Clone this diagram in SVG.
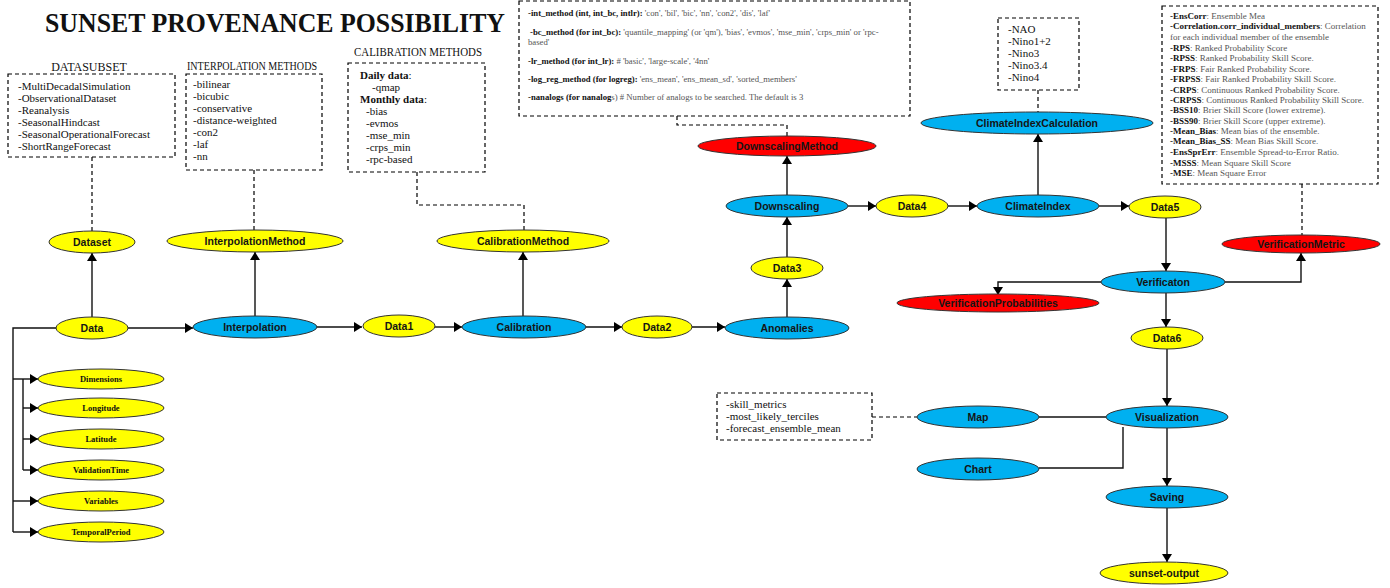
<svg xmlns="http://www.w3.org/2000/svg" width="1390" height="588" viewBox="0 0 1390 588">
<defs>
<marker id="arr" markerUnits="userSpaceOnUse" markerWidth="9" markerHeight="10" refX="8" refY="5" orient="auto"><path d="M0,0 L8,5 L0,10 z" fill="#000"/></marker>
<style>
.y{fill:#FFFF00;stroke:#333;stroke-width:1}
.b{fill:#00B0F0;stroke:#333;stroke-width:1}
.r{fill:#FF0000;stroke:#333;stroke-width:1}
.nt{font-family:"Liberation Sans",Arial,sans-serif;font-size:10.5px;font-weight:bold;fill:#151515;text-anchor:middle;dominant-baseline:central}
.st{font-family:"Liberation Serif","Times New Roman",serif;font-size:8.5px;font-weight:bold;fill:#111;text-anchor:middle;dominant-baseline:central}
.box{fill:#fff;stroke:#000;stroke-width:1.2;stroke-dasharray:4 3}
.dash{fill:none;stroke:#000;stroke-width:1.2;stroke-dasharray:4 3}
.ln{fill:none;stroke:#111;stroke-width:1.4}
.la{fill:none;stroke:#111;stroke-width:1.4;marker-end:url(#arr)}
.tx{font-family:"Liberation Serif","Times New Roman",serif;font-size:11px;fill:#111}
.hd{font-family:"Liberation Serif","Times New Roman",serif;font-size:12px;fill:#111;text-anchor:middle}
.sm{font-family:"Liberation Serif","Times New Roman",serif;font-size:8.7px;fill:#555}
.vm{font-family:"Liberation Serif","Times New Roman",serif;font-size:9px;fill:#555}
.k{font-weight:bold;fill:#111}
</style>
</defs>
<rect width="1390" height="588" fill="#fff"/>
<text x="45" y="32" font-family="'Liberation Serif','Times New Roman',serif" font-size="27" font-weight="bold" fill="#111" textLength="460" lengthAdjust="spacingAndGlyphs">SUNSET PROVENANCE POSSIBILITY</text>

<g id="connectors">
<path class="la" d="M128,328 H193"/>
<path class="la" d="M316,327 H362"/>
<path class="la" d="M435,327 H462"/>
<path class="la" d="M585,327 H622"/>
<path class="la" d="M692,327 H725"/>
<path class="la" d="M92,317 V253"/>
<path class="la" d="M255,316 V252"/>
<path class="la" d="M523,316 V252"/>
<path class="la" d="M787,317 V279"/>
<path class="la" d="M787,257 V217"/>
<path class="la" d="M787,195 V156"/>
<path class="la" d="M848,206 H876"/>
<path class="la" d="M948,206 H977"/>
<path class="la" d="M1038,195 V134"/>
<path class="la" d="M1099,206 H1129"/>
<path class="la" d="M1166,218 V271"/>
<path class="la" d="M1225,282 H1301 V253"/>
<path class="la" d="M1101,282 H998 V295"/>
<path class="la" d="M1166,293 V327"/>
<path class="la" d="M1167,349 V406"/>
<path class="ln" d="M1106,417 H1039"/>
<path class="ln" d="M1123,427 V468 H1039"/>
<path class="la" d="M1167,428 V486"/>
<path class="la" d="M1167,508 V562"/>
<path class="ln" d="M57,328 H13 V532"/>
<path class="la" d="M13,379 H38"/>
<path class="ln" d="M23,379 V470"/>
<path class="la" d="M23,408 H38"/>
<path class="la" d="M23,439 H38"/>
<path class="la" d="M23,470 H38"/>
<path class="la" d="M13,501 H38"/>
<path class="la" d="M13,532 H38"/>
<path class="dash" d="M92,157 V231"/>
<path class="dash" d="M254,170 V230"/>
<path class="dash" d="M417,172 V205 H524 V232"/>
<path class="dash" d="M677,116 V125 H787 V136"/>
<path class="dash" d="M1038,90 V112"/>
<path class="dash" d="M1302,184 V235"/>
<path class="dash" d="M872,417 H917"/>
</g>

<g id="datasubset">
<text class="hd" x="89" y="71">DATASUBSET</text>
<rect class="box" x="8" y="74" width="167" height="83"/>
<text class="tx" font-size="10" x="18" y="90">-MultiDecadalSimulation</text>
<text class="tx" font-size="10" x="18" y="102">-ObservationalDataset</text>
<text class="tx" font-size="10" x="18" y="114">-Reanalysis</text>
<text class="tx" font-size="10" x="18" y="126">-SeasonalHindcast</text>
<text class="tx" font-size="10" x="18" y="138">-SeasonalOperationalForecast</text>
<text class="tx" font-size="10" x="18" y="150">-ShortRangeForecast</text>
</g>

<g id="interpolation-methods">
<text class="hd" x="252" y="70" font-size="10" textLength="130" lengthAdjust="spacingAndGlyphs">INTERPOLATION METHODS</text>
<rect class="box" x="186" y="74" width="136" height="96"/>
<text class="tx" x="193" y="88">-bilinear</text>
<text class="tx" x="193" y="100">-bicubic</text>
<text class="tx" x="193" y="112">-conservative</text>
<text class="tx" x="193" y="124">-distance-weighted</text>
<text class="tx" x="193" y="136">-con2</text>
<text class="tx" x="193" y="148">-laf</text>
<text class="tx" x="193" y="160">-nn</text>
</g>

<g id="calibration-methods">
<text class="hd" x="418" y="56" font-size="10" textLength="128" lengthAdjust="spacingAndGlyphs">CALIBRATION METHODS</text>
<rect class="box" x="348" y="63" width="137" height="109"/>
<text class="tx" x="360" y="79"><tspan font-weight="bold">Daily data</tspan>:</text>
<text class="tx" x="372" y="91">-qmap</text>
<text class="tx" x="360" y="103"><tspan font-weight="bold">Monthly data</tspan>:</text>
<text class="tx" x="366" y="115">-bias</text>
<text class="tx" x="366" y="127">-evmos</text>
<text class="tx" x="366" y="139">-mse_min</text>
<text class="tx" x="366" y="151">-crps_min</text>
<text class="tx" x="366" y="163">-rpc-based</text>
</g>

<g id="downscaling-methods">
<rect class="box" x="519" y="1" width="391" height="115"/>
<text class="sm" x="528" y="16"><tspan class="k">-int_method (int, int_bc, intlr):</tspan> 'con', 'bil', 'bic', 'nn', 'con2', 'dis', 'laf'</text>
<text class="sm" x="530" y="35"><tspan class="k">-bc_method (for int_bc):</tspan> 'quantile_mapping' (or 'qm'), 'bias', 'evmos', 'mse_min', 'crps_min' or 'rpc-</text>
<text class="sm" x="528" y="45">based'</text>
<text class="sm" x="528" y="64"><tspan class="k">-lr_method (for int_lr):</tspan> # 'basic', 'large-scale', '4nn'</text>
<text class="sm" x="528" y="82"><tspan class="k">-log_reg_method (for logreg):</tspan> 'ens_mean', 'ens_mean_sd', 'sorted_members'</text>
<text class="sm" x="528" y="100"><tspan class="k">-nanalogs (for nanalog</tspan>s) # Number of analogs to be searched. The default is 3</text>
</g>

<g id="climate-indices">
<rect class="box" x="998" y="18" width="81" height="72"/>
<text class="tx" x="1008" y="33">-NAO</text>
<text class="tx" x="1008" y="45">-Nino1+2</text>
<text class="tx" x="1008" y="57">-Nino3</text>
<text class="tx" x="1008" y="69">-Nino3.4</text>
<text class="tx" x="1008" y="81">-Nino4</text>
</g>

<g id="verification-metrics">
<rect class="box" x="1162" y="6" width="216" height="178"/>
<text class="vm" x="1170" y="19"><tspan class="k">-EnsCorr</tspan>: Ensemble Mea</text>
<text class="vm" x="1170" y="29"><tspan class="k">-Correlation.corr_individual_members</tspan>: Correlation</text>
<text class="vm" x="1170" y="40">for each individual member of the ensemble</text>
<text class="vm" x="1170" y="51"><tspan class="k">-RPS</tspan>: Ranked Probability Score</text>
<text class="vm" x="1170" y="61"><tspan class="k">-RPSS</tspan>: Ranked Probability Skill Score.</text>
<text class="vm" x="1170" y="72"><tspan class="k">-FRPS</tspan>: Fair Ranked Probability Score.</text>
<text class="vm" x="1170" y="82"><tspan class="k">-FRPSS</tspan>: Fair Ranked Probability Skill Score.</text>
<text class="vm" x="1170" y="93"><tspan class="k">-CRPS</tspan>: Continuous Ranked Probability Score.</text>
<text class="vm" x="1170" y="103"><tspan class="k">-CRPSS</tspan>: Continuous Ranked Probability Skill Score.</text>
<text class="vm" x="1170" y="113"><tspan class="k">-BSS10</tspan>: Brier Skill Score (lower extreme).</text>
<text class="vm" x="1170" y="124"><tspan class="k">-BSS90</tspan>: Brier Skill Score (upper extreme).</text>
<text class="vm" x="1170" y="134"><tspan class="k">-Mean_Bias</tspan>: Mean bias of the ensemble.</text>
<text class="vm" x="1170" y="144"><tspan class="k">-Mean_Bias_SS</tspan>: Mean Bias Skill Score.</text>
<text class="vm" x="1170" y="155"><tspan class="k">-EnsSprErr</tspan>: Ensemble Spread-to-Error Ratio.</text>
<text class="vm" x="1170" y="166"><tspan class="k">-MSSS</tspan>: Mean Square Skill Score</text>
<text class="vm" x="1170" y="176"><tspan class="k">-MSE</tspan>: Mean Square Error</text>
</g>

<g id="map-outputs">
<rect class="box" x="717" y="393" width="155" height="47"/>
<text class="tx" x="726" y="408">-skill_metrics</text>
<text class="tx" x="726" y="420">-most_likely_terciles</text>
<text class="tx" x="726" y="432">-forecast_ensemble_mean</text>
</g>

<g id="Dataset"><ellipse class="y" cx="92" cy="242" rx="43" ry="11"/><text class="nt" x="92" y="242">Dataset</text></g>
<g id="InterpolationMethod"><ellipse class="y" cx="255" cy="241" rx="88" ry="11"/><text class="nt" x="255" y="241">InterpolationMethod</text></g>
<g id="CalibrationMethod"><ellipse class="y" cx="523" cy="241" rx="86" ry="11"/><text class="nt" x="523" y="241">CalibrationMethod</text></g>
<g id="Data"><ellipse class="y" cx="92" cy="328" rx="36" ry="11"/><text class="nt" x="92" y="328">Data</text></g>
<g id="Interpolation"><ellipse class="b" cx="255" cy="327" rx="62" ry="11"/><text class="nt" x="255" y="327">Interpolation</text></g>
<g id="Data1"><ellipse class="y" cx="399" cy="326" rx="36" ry="11"/><text class="nt" x="399" y="326">Data1</text></g>
<g id="Calibration"><ellipse class="b" cx="524" cy="327" rx="62" ry="11"/><text class="nt" x="524" y="327">Calibration</text></g>
<g id="Data2"><ellipse class="y" cx="657" cy="327" rx="35" ry="11"/><text class="nt" x="657" y="327">Data2</text></g>
<g id="Anomalies"><ellipse class="b" cx="787" cy="328" rx="62" ry="11"/><text class="nt" x="787" y="328">Anomalies</text></g>
<g id="Data3"><ellipse class="y" cx="787" cy="268" rx="36" ry="11"/><text class="nt" x="787" y="268">Data3</text></g>
<g id="Downscaling"><ellipse class="b" cx="787" cy="206" rx="61" ry="11"/><text class="nt" x="787" y="206">Downscaling</text></g>
<g id="DownscalingMethod"><ellipse class="r" cx="787" cy="146" rx="89" ry="10"/><text class="nt" x="787" y="146">DownscalingMethod</text></g>
<g id="Data4"><ellipse class="y" cx="912" cy="206" rx="36" ry="11"/><text class="nt" x="912" y="206">Data4</text></g>
<g id="ClimateIndex"><ellipse class="b" cx="1038" cy="206" rx="61" ry="11"/><text class="nt" x="1038" y="206">ClimateIndex</text></g>
<g id="ClimateIndexCalculation"><ellipse class="b" cx="1037" cy="123" rx="116" ry="11"/><text class="nt" x="1037" y="123">ClimateIndexCalculation</text></g>
<g id="Data5"><ellipse class="y" cx="1165" cy="207" rx="36" ry="11"/><text class="nt" x="1165" y="207">Data5</text></g>
<g id="VerificationMetric"><ellipse class="r" cx="1301" cy="244" rx="79" ry="9"/><text class="nt" x="1301" y="244">VerificationMetric</text></g>
<g id="Verificaton"><ellipse class="b" cx="1163" cy="282" rx="62" ry="11"/><text class="nt" x="1163" y="282">Verificaton</text></g>
<g id="VerificationProbabilities"><ellipse class="r" cx="998" cy="303" rx="101" ry="9"/><text class="nt" x="998" y="303">VerificationProbabilities</text></g>
<g id="Data6"><ellipse class="y" cx="1167" cy="338" rx="36" ry="11"/><text class="nt" x="1167" y="338">Data6</text></g>
<g id="Visualization"><ellipse class="b" cx="1167" cy="417" rx="61" ry="11"/><text class="nt" x="1167" y="417">Visualization</text></g>
<g id="Map"><ellipse class="b" cx="978" cy="417" rx="61" ry="11"/><text class="nt" x="978" y="417">Map</text></g>
<g id="Chart"><ellipse class="b" cx="978" cy="469" rx="61" ry="11"/><text class="nt" x="978" y="469">Chart</text></g>
<g id="Saving"><ellipse class="b" cx="1167" cy="497" rx="61" ry="11"/><text class="nt" x="1167" y="497">Saving</text></g>
<g id="sunset-output"><ellipse class="y" cx="1164" cy="573" rx="64" ry="11"/><text class="nt" x="1164" y="573">sunset-output</text></g>
<g id="Dimensions"><ellipse class="y" cx="101" cy="379" rx="63" ry="10"/><text class="st" x="101" y="379">Dimensions</text></g>
<g id="Longitude"><ellipse class="y" cx="101" cy="408" rx="63" ry="10"/><text class="st" x="101" y="408">Longitude</text></g>
<g id="Latitude"><ellipse class="y" cx="101" cy="439" rx="63" ry="10"/><text class="st" x="101" y="439">Latitude</text></g>
<g id="ValidationTime"><ellipse class="y" cx="101" cy="470" rx="63" ry="10"/><text class="st" x="101" y="470">ValidationTime</text></g>
<g id="Variables"><ellipse class="y" cx="101" cy="501" rx="63" ry="10"/><text class="st" x="101" y="501">Variables</text></g>
<g id="TemporalPeriod"><ellipse class="y" cx="101" cy="532" rx="63" ry="10"/><text class="st" x="101" y="532">TemporalPeriod</text></g>
</svg>
